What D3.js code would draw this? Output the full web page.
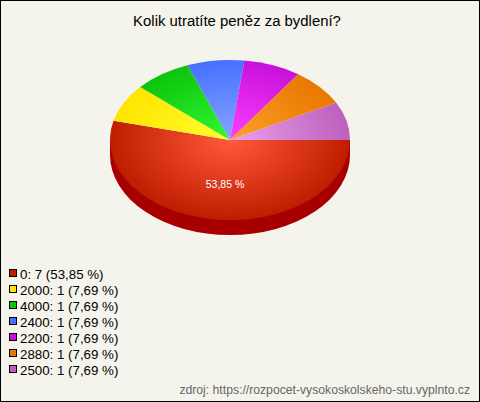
<!DOCTYPE html>
<html><head><meta charset="utf-8">
<script src="https://cdn.jsdelivr.net/npm/d3@7"></script>
<style>html,body{margin:0;padding:0;background:#f5f4ec}svg{display:block}text{font-family:"Liberation Sans",Arial,sans-serif}</style>
</head><body><svg id="c" width="480" height="402"></svg>
<script>
const categories = ["0","2000","4000","2400","2200","2880","2500"];
const counts = [7,1,1,1,1,1,1];
const percents = ["53,85","7,69","7,69","7,69","7,69","7,69","7,69"];
const edgeColors = ["#c01c00","#ffe400","#0cc40c","#4870ff","#c810dc","#e87800","#bc60bc"];
const lightColors = ["#ff5a3c","#ffff30","#34f834","#84a4ff","#fc40fc","#ffa028","#eca0ec"];
const title = "Kolik utratíte peněz za bydlení?";
const source = "zdroj: https://rozpocet-vysokoskolskeho-stu.vyplnto.cz";

const svg = d3.select("#c");
svg.append("rect").attr("x",.5).attr("y",.5).attr("width",479).attr("height",401)
  .attr("fill","#f5f4ec").attr("stroke","#000");
svg.append("text").attr("x",237).attr("y",26).attr("text-anchor","middle")
  .attr("font-size",14.9).attr("fill","#000").text(title);

const cx=230, cy=140, rx=120, ry=80, depth=15;
const defs = svg.append("defs");
categories.forEach((c,i)=>{
  const g = defs.append("radialGradient").attr("id","g"+i)
    .attr("gradientUnits","userSpaceOnUse").attr("cx",0).attr("cy",0).attr("r",rx);
  g.append("stop").attr("offset",0).attr("stop-color",lightColors[i]);
  g.append("stop").attr("offset",1).attr("stop-color",edgeColors[i]);
});
const pie = d3.pie().sort(null).startAngle(Math.PI/2).endAngle(Math.PI*2.5)(counts);
const arc = d3.arc().innerRadius(0).outerRadius(rx);
const root = svg.append("g").attr("transform",`translate(${cx},${cy}) scale(1,${ry/rx})`);
const wall = root.append("g");
wall.append("path").attr("transform",`translate(0,${depth*rx/ry})`)
  .attr("d",arc({startAngle:Math.PI/2,endAngle:Math.PI*1.5})).attr("fill","#a80000");
wall.append("rect").attr("x",-rx).attr("y",0).attr("width",rx*2).attr("height",depth*rx/ry).attr("fill","#a80000");
root.selectAll("path.s").data(pie).join("path").attr("class","s")
  .attr("d",arc).attr("fill",(d,i)=>`url(#g${i})`);
svg.append("text").attr("x",225).attr("y",188).attr("text-anchor","middle")
  .attr("font-size",10.5).attr("fill","#fff").text(percents[0]+" %");

const leg = svg.append("g");
const y = d3.scalePoint().domain(categories).range([274,370]);
categories.forEach((c,i)=>{
  leg.append("rect").attr("x",9.5).attr("y",y(c)-4.5).attr("width",7).attr("height",7)
    .attr("fill",edgeColors[i]).attr("stroke","#000");
  leg.append("text").attr("x",20).attr("y",y(c)+4.5).attr("font-size",13.3).attr("fill","#000")
    .text(`${c}: ${counts[i]} (${percents[i]} %)`);
});
svg.append("text").attr("x",470).attr("y",394).attr("text-anchor","end")
  .attr("font-size",12.2).attr("fill","#666").text(source);
</script></body></html>
